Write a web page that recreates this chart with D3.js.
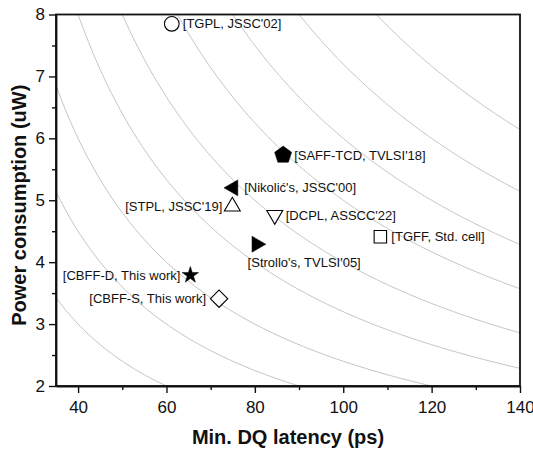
<!DOCTYPE html>
<html>
<head>
    <script src="https://d3js.org/d3.v7.min.js"></script>
    <style>
        body { margin: 0; background: #fff; }
        text { font-family: Arial, "Liberation Sans", sans-serif; fill: #111; }
        .curve { fill: none; stroke: #c4c4c4; stroke-width: 1; }
        .axis path, .axis line { stroke: #111; }
        .axis path { stroke-width: 1.8; }
        .axis line { stroke-width: 1.4; }
        .axis text { font-size: 17px; }
        .label { font-size: 13px; }
        .title { font-size: 20px; font-weight: bold; }
    </style>
</head>
<body>
<div id="chart"></div>
<script>
    // constant power-delay product contours (ps * uW)
    const pdpLevels = [120, 180, 240, 320, 400, 500, 600, 720, 860];

    // designs
    const names = ["[TGPL, JSSC'02]", "[SAFF-TCD, TVLSI'18]", "[Nikolić's, JSSC'00]", "[STPL, JSSC'19]",
        "[DCPL, ASSCC'22]", "[Strollo's, TVLSI'05]", "[TGFF, Std. cell]", "[CBFF-D, This work]", "[CBFF-S, This work]"];
    const latency = [61.2, 86.4, 75.1, 74.9, 84.5, 80.4, 108.4, 65.4, 71.9];
    const power = [7.85, 5.73, 5.2, 4.9, 4.76, 4.29, 4.41, 3.79, 3.41];
    const markers = ["circle", "pentagon", "triLeft", "triUp", "triDown", "triRight", "square", "star", "diamond"];
    const labelSide = ["right", "right", "right", "left", "right", "below", "right", "left", "left"];

    const xTicks = [40, 60, 80, 100, 120, 140];
    const xMinor = [50, 70, 90, 110, 130];
    const yTicks = [2, 3, 4, 5, 6, 7, 8];
    const yMinor = [2.5, 3.5, 4.5, 5.5, 6.5, 7.5];

    const width = 533, height = 449;
    const x = d3.scaleLinear().domain([35, 140]).range([56, 520]);
    const y = d3.scaleLinear().domain([2, 8]).range([386, 14.5]);

    const svg = d3.select('#chart').append('svg')
        .attr('width', width)
        .attr('height', height);

    svg.append('defs').append('clipPath').attr('id', 'plot')
        .append('rect')
        .attr('x', x(35)).attr('y', y(8))
        .attr('width', x(140) - x(35)).attr('height', y(2) - y(8));

    // contours
    const line = d3.line().x(d => x(d[0])).y(d => y(d[1]));
    const curves = svg.append('g').attr('clip-path', 'url(#plot)');
    pdpLevels.forEach(c => {
        const pts = d3.range(30, 145.1, 0.5).map(t => [t, c / t]);
        curves.append('path').attr('class', 'curve').attr('d', line(pts));
    });

    // axes
    svg.append('g').attr('class', 'axis')
        .attr('transform', `translate(0,${y(2)})`)
        .call(d3.axisBottom(x).tickValues(xTicks).tickFormat(d3.format('d')).tickSize(7).tickPadding(8).tickSizeOuter(0));
    svg.append('g').attr('class', 'axis')
        .attr('transform', `translate(0,${y(2)})`)
        .call(d3.axisBottom(x).tickValues(xMinor).tickSize(4).tickFormat('').tickSizeOuter(0))
        .select('.domain').remove();
    svg.append('g').attr('class', 'axis')
        .attr('transform', `translate(${x(35)},0)`)
        .call(d3.axisLeft(y).tickValues(yTicks).tickFormat(d3.format('d')).tickSize(7).tickPadding(4).tickSizeOuter(0));
    svg.append('g').attr('class', 'axis')
        .attr('transform', `translate(${x(35)},0)`)
        .call(d3.axisLeft(y).tickValues(yMinor).tickSize(4).tickFormat('').tickSizeOuter(0))
        .select('.domain').remove();

    // frame
    svg.append('rect')
        .attr('x', x(35)).attr('y', y(8))
        .attr('width', x(140) - x(35)).attr('height', y(2) - y(8))
        .attr('fill', 'none').attr('stroke', '#111').attr('stroke-width', 1.8);

    // marker shapes
    const pentagon = {
        draw(ctx, size) {
            const r = Math.sqrt(size / 2.378);
            for (let i = 0; i < 5; i++) {
                const a = -Math.PI / 2 + i * 2 * Math.PI / 5;
                if (i === 0) ctx.moveTo(r * Math.cos(a), r * Math.sin(a));
                else ctx.lineTo(r * Math.cos(a), r * Math.sin(a));
            }
            ctx.closePath();
        }
    };
    const shape = {
        circle: { type: d3.symbolCircle, size: 170, rot: 0, fill: false },
        pentagon: { type: pentagon, size: 190, rot: 0, fill: true },
        triLeft: { type: d3.symbolTriangle, size: 110, rot: -90, fill: true },
        triUp: { type: d3.symbolTriangle, size: 110, rot: 0, fill: false },
        triDown: { type: d3.symbolTriangle, size: 110, rot: 180, fill: false },
        triRight: { type: d3.symbolTriangle, size: 110, rot: 90, fill: true },
        square: { type: d3.symbolSquare, size: 155, rot: 0, fill: false },
        star: { type: d3.symbolStar, size: 85, rot: 0, fill: true },
        diamond: { type: d3.symbolSquare, size: 150, rot: 45, fill: false }
    };

    const pts = names.map((n, i) => ({ name: n, x: latency[i], y: power[i], m: markers[i], side: labelSide[i] }));

    const node = svg.selectAll('.pt')
        .data(pts)
        .enter().append('g')
        .attr('class', 'pt')
        .attr('transform', d => `translate(${x(d.x)},${y(d.y)})`);

    node.append('path')
        .attr('d', d => d3.symbol().type(shape[d.m].type).size(shape[d.m].size)())
        .attr('transform', d => `rotate(${shape[d.m].rot})`)
        .attr('fill', d => shape[d.m].fill ? '#000' : '#fff')
        .attr('stroke', '#000')
        .attr('stroke-width', d => shape[d.m].fill ? 0.5 : 1.1);

    node.append('text')
        .attr('class', 'label')
        .attr('x', d => d.side === 'right' ? 11 : d.side === 'left' ? (d.m === 'diamond' ? -13 : -10) : -9)
        .attr('y', d => d.side === 'below' ? 18 : 0)
        .attr('dy', '0.35em')
        .style('text-anchor', d => d.side === 'left' ? 'end' : 'start')
        .text(d => d.name);

    // titles
    svg.append('text').attr('class', 'title')
        .attr('x', (x(35) + x(140)) / 2).attr('y', 444)
        .style('text-anchor', 'middle')
        .text('Min. DQ latency (ps)');
    svg.append('text').attr('class', 'title')
        .attr('transform', `translate(26,${(y(2) + y(8)) / 2 + 5}) rotate(-90)`)
        .style('text-anchor', 'middle')
        .text('Power consumption (uW)');
</script>
</body>
</html>
